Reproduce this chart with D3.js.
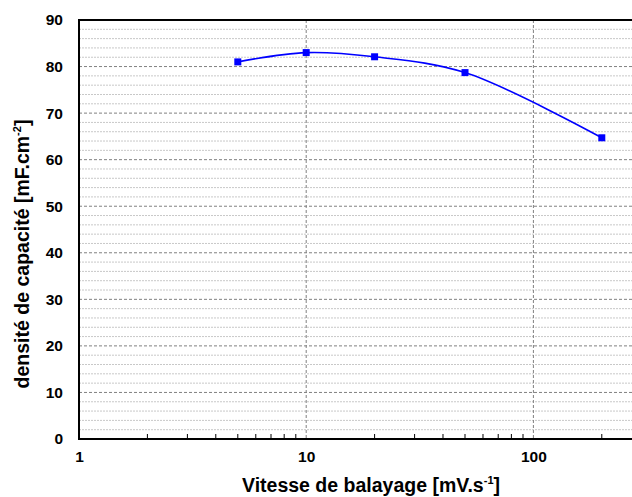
<!DOCTYPE html>
<html>
<head>
<meta charset="utf-8">
<script src="https://cdn.jsdelivr.net/npm/d3@7"></script>
<style>
  html, body { margin: 0; padding: 0; background: #fff; }
  svg { display: block; }
  text { font-family: "Liberation Sans", Arial, Helvetica, sans-serif; font-weight: bold; fill: #000; }
</style>
</head>
<body>
<svg id="chart" width="632" height="497"></svg>
<script>
const scanRates = [5, 10, 20, 50, 200];
const capacitance = [81.0, 83.0, 82.1, 78.7, 64.7];
const xTickValues = [1, 10, 100];
const xTickLabels = ["1", "10", "100"];
const yTickValues = [0, 10, 20, 30, 40, 50, 60, 70, 80, 90];
const yMinorValues = [2,4,6,8,12,14,16,18,22,24,26,28,32,34,36,38,42,44,46,48,52,54,56,58,62,64,66,68,72,74,76,78,82,84,86,88];
const xTitle = "Vitesse de balayage [mV.s";
const yTitle = "densité de capacité [mF.cm";

(function () {
const svg = d3.select("#chart");
const W = 632, H = 497;
const pLeft = 79, pTop = 20, pBottom = 439;
const decade = 227.2;

const x = d3.scaleLog().domain([1, 1000]).range([pLeft, pLeft + 3 * decade]);
const y = d3.scaleLinear().domain([0, 90]).range([pBottom, pTop]);
const pRight = W;

// minor gridlines
svg.append("g").selectAll("line").data(yMinorValues).join("line")
  .attr("x1", pLeft).attr("x2", pRight)
  .attr("y1", d => y(d)).attr("y2", d => y(d))
  .attr("stroke", "#c8c8c8").attr("stroke-width", 1).attr("stroke-dasharray", "2,1");

// major horizontal gridlines
svg.append("g").selectAll("line").data(yTickValues.filter(v => v > 0 && v < 90)).join("line")
  .attr("x1", pLeft).attr("x2", pRight)
  .attr("y1", d => y(d)).attr("y2", d => y(d))
  .attr("stroke", "#808080").attr("stroke-width", 1).attr("stroke-dasharray", "3,2");

// vertical major gridlines
svg.append("g").selectAll("line").data(xTickValues.filter(v => v > 1)).join("line")
  .attr("x1", d => x(d)).attr("x2", d => x(d))
  .attr("y1", pTop).attr("y2", pBottom)
  .attr("stroke", "#808080").attr("stroke-width", 1).attr("stroke-dasharray", "3,2");

// bottom axis minor ticks
const minorX = [];
[1, 10, 100].forEach(dec => { for (let k = 2; k <= 9; k++) minorX.push(dec * k); });
svg.append("g").selectAll("line").data(minorX.filter(v => x(v) < pRight)).join("line")
  .attr("x1", d => x(d)).attr("x2", d => x(d))
  .attr("y1", pBottom).attr("y2", pBottom - 5)
  .attr("stroke", "#000").attr("stroke-width", 1);

const xAxis = d3.axisBottom(x).tickValues(xTickValues).tickFormat((d, i) => xTickLabels[i]).tickSize(0).tickPadding(12);
const gx = svg.append("g").attr("transform", `translate(0,${pBottom})`).call(xAxis);
gx.select(".domain").remove();
gx.selectAll("text").attr("font-size", 15.5).attr("font-family", null).attr("font-weight", "bold");

const yAxis = d3.axisLeft(y).tickValues(yTickValues).tickSize(0).tickPadding(16);
const gy = svg.append("g").attr("transform", `translate(${pLeft},0)`).call(yAxis);
gy.select(".domain").remove();
gy.selectAll("text").attr("font-size", 15.5).attr("font-family", null).attr("font-weight", "bold");

// frame lines
svg.append("line").attr("x1", pLeft).attr("x2", pRight).attr("y1", pTop).attr("y2", pTop).attr("stroke", "#000").attr("stroke-width", 2);
svg.append("line").attr("x1", pLeft).attr("x2", pRight).attr("y1", pBottom).attr("y2", pBottom).attr("stroke", "#000").attr("stroke-width", 2);
svg.append("line").attr("x1", pLeft).attr("x2", pLeft).attr("y1", pTop - 1).attr("y2", pBottom + 1).attr("stroke", "#000").attr("stroke-width", 2);

// data line
const pts = scanRates.map((v, i) => [x(v), y(capacitance[i])]);
svg.append("path").datum(pts)
  .attr("d", d3.line().curve(d3.curveCatmullRom.alpha(0.5)))
  .attr("fill", "none").attr("stroke", "#0000ff").attr("stroke-width", 1.6);

svg.append("g").selectAll("rect").data(pts).join("rect")
  .attr("x", d => d[0] - 3.5).attr("y", d => d[1] - 3.5)
  .attr("width", 7).attr("height", 7).attr("fill", "#0000ff");

// titles
const xt = svg.append("text").attr("x", 371).attr("y", 492).attr("text-anchor", "middle").attr("font-size", 19.5);
xt.append("tspan").text(xTitle);
xt.append("tspan").text("-1").attr("font-size", 11).attr("dy", -8);
xt.append("tspan").text("]").attr("dy", 8);

const yt = svg.append("text").attr("transform", "translate(29,254) rotate(-90)").attr("text-anchor", "middle").attr("font-size", 19.5);
yt.append("tspan").text(yTitle);
yt.append("tspan").text("-2").attr("font-size", 11).attr("dy", -8);
yt.append("tspan").text("]").attr("dy", 8);
})();
</script>
</body>
</html>
